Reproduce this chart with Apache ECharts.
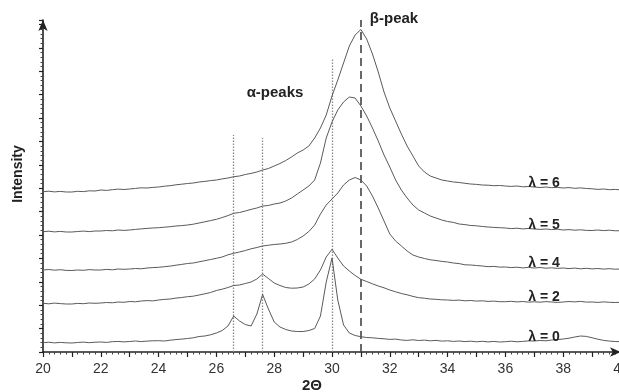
<!DOCTYPE html>
<html>
<head>
<meta charset="utf-8">
<script src="https://cdn.jsdelivr.net/npm/echarts@6/dist/echarts.min.js"></script>
<style>html,body{margin:0;padding:0;background:#fff}#main{width:619px;height:392px}</style>
</head>
<body>
<div id="main"></div>
<script>
// 2theta sample positions (deg)
var twoTheta = [20.0,20.2,20.4,20.6,20.8,21.0,21.2,21.4,21.6,21.8,
  22.0,22.2,22.4,22.6,22.8,23.0,23.2,23.4,23.6,23.8,
  24.0,24.2,24.4,24.6,24.8,25.0,25.2,25.4,25.6,25.8,
  26.0,26.2,26.4,26.6,26.8,27.0,27.2,27.4,27.6,27.8,
  28.0,28.2,28.4,28.6,28.8,29.0,29.2,29.4,29.6,29.8,
  30.0,30.2,30.4,30.6,30.8,31.0,31.2,31.4,31.6,31.8,
  32.0,32.2,32.4,32.6,32.8,33.0,33.2,33.4,33.6,33.8,
  34.0,34.2,34.4,34.6,34.8,35.0,35.2,35.4,35.6,35.8,
  36.0,36.2,36.4,36.6,36.8,37.0,37.2,37.4,37.6,37.8,
  38.0,38.2,38.4,38.6,38.8,39.0,39.2,39.4,39.6,39.8,40.0];

// intensities (arbitrary units, curves already stacked as drawn)
var lam0 = [9.3,9.8,9.1,9.6,9.2,9.0,9.5,9.9,9.3,9.8,
  10.0,9.6,10.3,10.6,10.1,10.5,11.0,10.4,10.9,11.2,
  11.3,11.0,11.8,12.4,12.9,13.5,14.2,15.5,16.0,17.2,
  19.0,21.5,26.0,36.0,31.0,27.5,26.0,38.0,57.5,43.0,
  30.0,25.0,22.5,21.0,20.5,20.5,21.5,23.5,36.0,70.0,
  94.0,52.0,27.0,19.0,16.5,15.3,14.5,14.2,13.6,13.2,
  12.6,12.9,12.0,11.6,12.2,11.5,11.9,11.2,11.6,10.9,
  11.2,10.6,11.0,10.4,10.8,10.2,10.7,10.1,10.6,10.0,
  10.3,10.8,10.2,10.6,11.1,11.0,11.5,11.2,12.0,12.4,
  13.0,13.8,15.0,16.0,15.6,14.2,12.8,11.6,10.9,10.5,10.3];
var lam2 = [48.7,48.2,48.9,48.4,48.0,48.0,48.6,48.3,49.0,48.7,
  49.0,49.5,49.2,50.0,49.7,50.5,50.2,51.0,51.4,51.1,
  52.0,52.6,53.0,53.9,54.5,55.3,55.8,57.0,58.2,59.5,
  61.5,62.8,64.5,66.5,67.0,68.5,70.0,73.0,78.0,73.5,
  69.0,66.5,64.5,63.8,64.0,65.0,68.0,73.0,82.0,95.0,
  102.7,94.0,86.0,81.0,76.5,72.7,70.5,68.2,66.0,64.2,
  62.0,60.2,58.5,57.2,55.6,54.3,53.8,53.0,52.7,52.2,
  52.0,51.6,51.9,51.2,51.5,50.9,51.2,50.6,50.9,50.3,
  50.3,50.7,50.1,50.5,49.9,50.2,49.8,50.4,50.0,49.6,
  50.0,50.5,50.1,50.6,49.9,50.0,49.6,50.1,49.7,49.5,49.7];
var lam4 = [82.0,82.5,81.8,82.3,81.6,81.5,82.0,81.7,82.4,82.0,
  82.0,82.6,82.2,83.0,82.7,83.0,83.5,83.2,84.0,84.4,
  84.7,85.3,85.9,86.8,87.6,88.5,89.0,90.2,91.3,92.5,
  93.7,95.0,97.2,98.7,100.0,101.5,103.2,104.5,106.0,106.8,
  107.5,108.0,108.7,110.0,112.5,116.0,120.5,127.0,138.0,147.0,
  153.0,159.0,167.0,172.0,174.5,172.0,166.0,156.0,144.0,131.0,
  118.0,111.0,106.0,101.0,97.0,95.0,93.5,92.2,91.5,90.6,
  90.0,89.0,88.4,87.2,87.0,86.5,86.0,85.3,85.6,84.9,
  85.0,84.4,84.8,84.1,84.6,84.0,84.5,83.8,84.2,83.6,
  84.0,83.4,83.9,83.2,83.7,83.1,83.5,82.9,83.3,82.8,83.0];
var lam5 = [120.3,120.8,120.1,120.6,120.0,120.0,120.5,120.9,120.4,121.0,
  121.0,121.5,121.2,122.0,121.6,122.0,122.6,123.1,123.6,124.0,
  124.3,124.8,125.3,126.0,126.4,127.0,127.8,129.0,130.2,131.4,
  132.7,134.5,136.4,138.7,139.5,141.0,142.6,144.0,146.0,146.5,
  148.0,149.0,151.0,154.0,158.0,162.0,166.0,172.0,189.0,214.0,
  230.0,242.0,250.0,255.0,254.0,246.0,236.0,224.0,211.0,197.0,
  185.0,172.0,162.0,154.0,147.0,142.0,139.0,136.0,134.0,132.0,
  130.5,129.6,128.0,127.4,126.5,126.2,125.5,125.0,124.6,124.3,
  124.0,123.4,123.8,123.1,123.5,123.0,122.6,123.0,122.4,122.8,
  122.0,122.4,121.8,122.2,121.6,121.5,122.0,121.4,121.8,121.2,121.3];
var lam6 = [160.3,160.8,160.1,160.6,160.0,160.0,160.7,160.4,161.2,161.0,
  162.0,161.6,162.3,162.9,162.5,163.0,163.6,164.2,164.0,164.6,
  165.0,165.8,166.3,167.2,167.8,168.5,169.0,170.0,170.6,171.4,
  172.0,173.1,174.0,175.3,176.0,177.5,178.6,180.0,182.0,183.5,
  186.0,188.5,191.5,195.0,199.0,202.0,206.0,214.0,224.0,237.0,
  256.0,272.0,289.0,306.0,317.0,322.5,313.0,298.0,280.0,260.0,
  244.0,231.0,218.0,206.0,196.0,186.0,180.0,176.0,174.0,172.0,
  171.0,170.0,169.5,168.7,168.0,167.6,167.0,166.8,166.3,166.5,
  166.0,165.6,166.0,165.2,165.5,165.0,164.5,165.0,164.3,164.6,
  164.0,164.4,163.7,164.1,163.5,163.2,162.6,163.0,162.3,162.6,162.0];

var curveNames = ['λ = 6', 'λ = 5', 'λ = 4', 'λ = 2', 'λ = 0'];
var curveData = [lam6, lam5, lam4, lam2, lam0];

// reference lines: alpha peaks (dotted) and beta peak (dashed)
var alphaPeaks = [26.6, 27.6, 30.0];
var alphaTops = [217, 214, 293];
var betaPeak = 31.0;
var betaTop = 332;

var myChart = echarts.init(document.getElementById('main'));
var fontFam = '"Liberation Sans", Arial, sans-serif';

var marks = [];
for (var i = 0; i < alphaPeaks.length; i++) {
    marks.push([{coord: [alphaPeaks[i], 0], lineStyle: {type: [1.5, 1.5], color: '#8a8a8a', width: 1.3}},
                {coord: [alphaPeaks[i], alphaTops[i]]}]);
}
marks.push([{coord: [betaPeak, 0], lineStyle: {type: [8, 5], color: '#444', width: 1.6}},
            {coord: [betaPeak, betaTop]}]);

var series = [];
for (var s = 0; s < curveData.length; s++) {
    var pts = [];
    for (var j = 0; j < twoTheta.length; j++) {
        pts.push([twoTheta[j], curveData[s][j]]);
    }
    var item = {
        name: curveNames[s],
        type: 'line',
        data: pts,
        showSymbol: false,
        symbol: 'none',
        silent: true,
        lineStyle: {color: '#5a5a5a', width: 1},
        z: 3
    };
    if (s === 0) {
        item.markLine = {symbol: 'none', silent: true, label: {show: false}, z: 2, data: marks};
    }
    series.push(item);
}

// label positions (px) for the curve names
var labelY = [183, 225, 263, 297, 337];
var graphics = [];
for (var k = 0; k < curveNames.length; k++) {
    graphics.push({type: 'text', x: 544, y: labelY[k], z: 10,
        style: {text: curveNames[k], font: 'bold 14px ' + fontFam, fill: '#222', align: 'center', verticalAlign: 'middle'}});
}
graphics.push({type: 'text', x: 275, y: 93, z: 10,
    style: {text: 'α-peaks', font: 'bold 15px ' + fontFam, fill: '#222', align: 'center', verticalAlign: 'middle'}});
graphics.push({type: 'text', x: 394, y: 19, z: 10,
    style: {text: 'β-peak', font: 'bold 15px ' + fontFam, fill: '#222', align: 'center', verticalAlign: 'middle'}});
graphics.push({type: 'text', x: 18, y: 174, rotation: Math.PI / 2, z: 10,
    style: {text: 'Intensity', font: 'bold 14px ' + fontFam, fill: '#222', align: 'center', verticalAlign: 'middle'}});
graphics.push({type: 'text', x: 312, y: 386, z: 10,
    style: {text: '2Θ', font: 'bold 15px ' + fontFam, fill: '#222', align: 'center', verticalAlign: 'middle'}});

myChart.setOption({
    animation: false,
    backgroundColor: '#fff',
    grid: {left: 43, top: 20, width: 578, height: 332, outerBoundsMode: 'none', containLabel: false},
    xAxis: {
        type: 'value',
        min: 20,
        max: 40,
        interval: 1,
        axisLine: {lineStyle: {color: '#222', width: 1.6}, symbol: ['none', 'arrow'], symbolSize: [7, 11]},
        axisTick: {length: 5, lineStyle: {color: '#222', width: 1.2}},
        minorTick: {show: true, splitNumber: 5, length: 2.5, lineStyle: {color: '#444', width: 1}},
        splitLine: {show: false},
        axisLabel: {
            margin: 10,
            color: '#333',
            fontSize: 14,
            fontFamily: fontFam,
            formatter: function (v) { return v % 2 === 0 ? String(v) : ''; }
        }
    },
    yAxis: {
        type: 'value',
        min: 0,
        max: 332,
        interval: 23.4,
        axisLine: {lineStyle: {color: '#222', width: 1.6}, symbol: ['none', 'arrow'], symbolSize: [7, 11]},
        axisTick: {length: 4, lineStyle: {color: '#222', width: 1.2}},
        minorTick: {show: true, splitNumber: 5, length: 2.5, lineStyle: {color: '#444', width: 1}},
        splitLine: {show: false},
        axisLabel: {show: false}
    },
    graphic: graphics,
    series: series
});
</script>
</body>
</html>
